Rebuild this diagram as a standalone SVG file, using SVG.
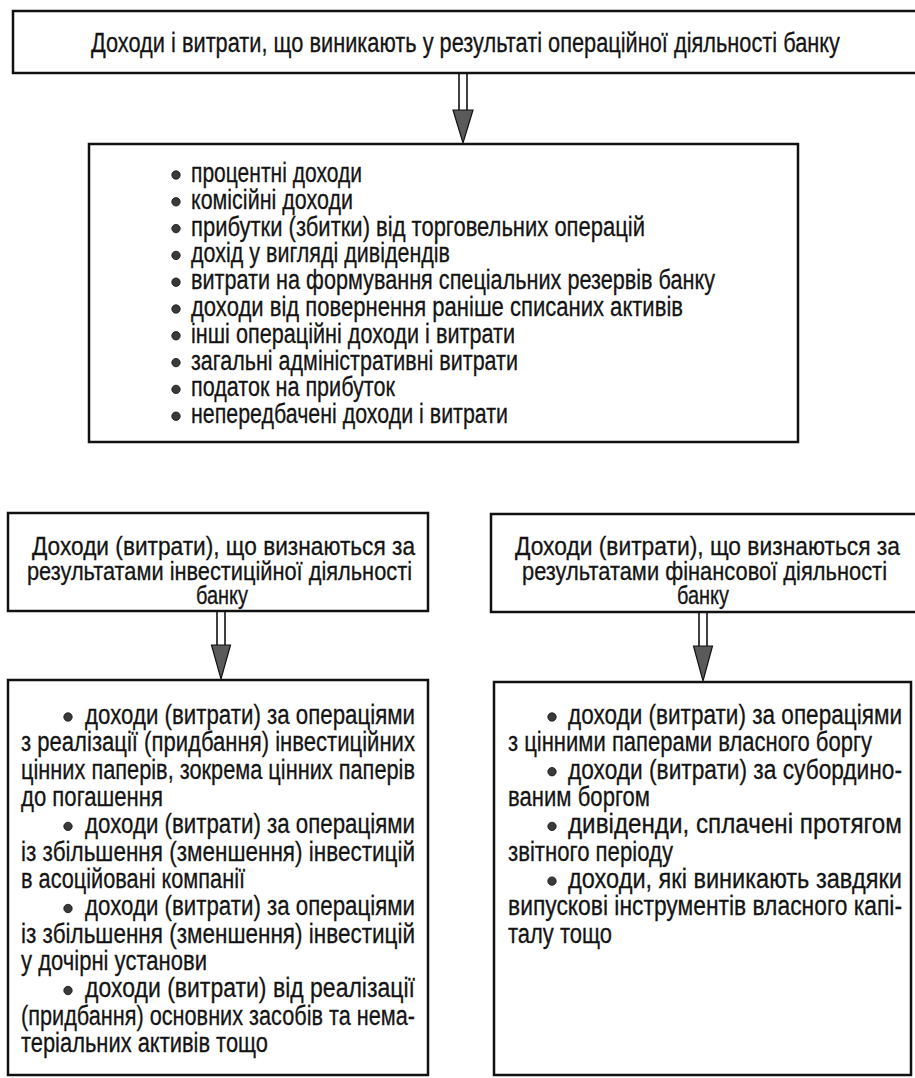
<svg xmlns="http://www.w3.org/2000/svg" width="915" height="1078" viewBox="0 0 915 1078">
<style>
.box{fill:#fff;stroke:#111;stroke-width:2.5}
.t{font-family:"Liberation Sans",Arial,sans-serif;font-size:28px;fill:#141414;stroke:#141414;stroke-width:0.3}
.h{font-size:26px}
.shaft{stroke:#111;stroke-width:1.6;fill:none}
.head{fill:#5a5a5a;stroke:#111;stroke-width:1.2;stroke-linejoin:miter}
.dot{fill:#3a3a3a;stroke:#111;stroke-width:0.8}
</style>
<rect width="915" height="1078" fill="#fff"/>
<g id="connectors">
  <g id="arrow-top">
    <line class="shaft" x1="459" y1="73" x2="459" y2="110"/>
    <line class="shaft" x1="467" y1="73" x2="467" y2="110"/>
    <polygon class="head" points="453,110 473,110 463,143"/>
  </g>
  <g id="arrow-inv">
    <line class="shaft" x1="217" y1="611" x2="217" y2="645"/>
    <line class="shaft" x1="225" y1="611" x2="225" y2="645"/>
    <polygon class="head" points="211.5,645 230.5,645 221,679"/>
  </g>
  <g id="arrow-fin">
    <line class="shaft" x1="699" y1="612" x2="699" y2="646"/>
    <line class="shaft" x1="707" y1="612" x2="707" y2="646"/>
    <polygon class="head" points="693.5,646 712.5,646 703,681"/>
  </g>
</g>
<g id="node-top">
  <rect class="box" x="13" y="11" width="910" height="62"/>
  <g transform="scale(0.8,1)">
    <text class="t" x="113.75" y="52" textLength="936.25" lengthAdjust="spacingAndGlyphs">Доходи і витрати, що виникають у результаті операційної діяльності банку</text>
  </g>
</g>
<g id="node-ops">
  <rect class="box" x="89" y="144" width="709" height="298"/>
  <circle class="dot" cx="176" cy="175" r="4.2"/>
  <circle class="dot" cx="176" cy="201.8" r="4.2"/>
  <circle class="dot" cx="176" cy="228.6" r="4.2"/>
  <circle class="dot" cx="176" cy="255.4" r="4.2"/>
  <circle class="dot" cx="176" cy="282.2" r="4.2"/>
  <circle class="dot" cx="176" cy="309" r="4.2"/>
  <circle class="dot" cx="176" cy="335.8" r="4.2"/>
  <circle class="dot" cx="176" cy="362.6" r="4.2"/>
  <circle class="dot" cx="176" cy="389.4" r="4.2"/>
  <circle class="dot" cx="176" cy="416.2" r="4.2"/>
  <g transform="scale(0.8,1)">
    <text class="t" x="238.75" y="182" textLength="213.75" lengthAdjust="spacingAndGlyphs">процентні доходи</text>
    <text class="t" x="238.75" y="208.8" textLength="202.5" lengthAdjust="spacingAndGlyphs">комісійні доходи</text>
    <text class="t" x="238.75" y="235.6" textLength="567.5" lengthAdjust="spacingAndGlyphs">прибутки (збитки) від торговельних операцій</text>
    <text class="t" x="238.75" y="262.4" textLength="323.75" lengthAdjust="spacingAndGlyphs">дохід у вигляді дивідендів</text>
    <text class="t" x="238.75" y="289.2" textLength="655" lengthAdjust="spacingAndGlyphs">витрати на формування спеціальних резервів банку</text>
    <text class="t" x="238.75" y="316" textLength="615" lengthAdjust="spacingAndGlyphs">доходи від повернення раніше списаних активів</text>
    <text class="t" x="238.75" y="342.8" textLength="405" lengthAdjust="spacingAndGlyphs">інші операційні доходи і витрати</text>
    <text class="t" x="238.75" y="369.6" textLength="408.75" lengthAdjust="spacingAndGlyphs">загальні адміністративні витрати</text>
    <text class="t" x="238.75" y="396.4" textLength="255" lengthAdjust="spacingAndGlyphs">податок на прибуток</text>
    <text class="t" x="238.75" y="423.2" textLength="396.25" lengthAdjust="spacingAndGlyphs">непередбачені доходи і витрати</text>
  </g>
</g>
<g id="node-inv-head">
  <rect class="box" x="8" y="513" width="420" height="98"/>
  <g transform="scale(0.8,1)">
    <text class="t h" x="40" y="555" textLength="478.75" lengthAdjust="spacingAndGlyphs">Доходи (витрати), що визнаються за</text>
    <text class="t h" x="33.75" y="580" textLength="481.25" lengthAdjust="spacingAndGlyphs">результатами інвестиційної діяльності</text>
    <text class="t h" x="245" y="604" textLength="65" lengthAdjust="spacingAndGlyphs">банку</text>
  </g>
</g>
<g id="node-fin-head">
  <rect class="box" x="491" y="514" width="430" height="98"/>
  <g transform="scale(0.8,1)">
    <text class="t h" x="643.75" y="555" textLength="481.25" lengthAdjust="spacingAndGlyphs">Доходи (витрати), що визнаються за</text>
    <text class="t h" x="652.5" y="580" textLength="456.25" lengthAdjust="spacingAndGlyphs">результатами фінансової діяльності</text>
    <text class="t h" x="846.25" y="604" textLength="65" lengthAdjust="spacingAndGlyphs">банку</text>
  </g>
</g>
<g id="node-inv-list">
  <rect class="box" x="8" y="680" width="420" height="395"/>
  <circle class="dot" cx="68" cy="717" r="4.2"/>
  <circle class="dot" cx="68" cy="826.4" r="4.2"/>
  <circle class="dot" cx="68" cy="908.5" r="4.2"/>
  <circle class="dot" cx="68" cy="990.5" r="4.2"/>
  <g transform="scale(0.8,1)">
    <text class="t" x="106.25" y="724" textLength="412.5" lengthAdjust="spacingAndGlyphs">доходи (витрати) за операціями</text>
    <text class="t" x="26.25" y="751.4" textLength="492.5" lengthAdjust="spacingAndGlyphs">з реалізації (придбання) інвестиційних</text>
    <text class="t" x="26.25" y="778.7" textLength="492.5" lengthAdjust="spacingAndGlyphs">цінних паперів, зокрема цінних паперів</text>
    <text class="t" x="26.25" y="806" textLength="177.5" lengthAdjust="spacingAndGlyphs">до погашення</text>
    <text class="t" x="106.25" y="833.4" textLength="412.5" lengthAdjust="spacingAndGlyphs">доходи (витрати) за операціями</text>
    <text class="t" x="26.25" y="860.8" textLength="492.5" lengthAdjust="spacingAndGlyphs">із збільшення (зменшення) інвестицій</text>
    <text class="t" x="26.25" y="888.1" textLength="280" lengthAdjust="spacingAndGlyphs">в асоційовані компанії</text>
    <text class="t" x="106.25" y="915.5" textLength="412.5" lengthAdjust="spacingAndGlyphs">доходи (витрати) за операціями</text>
    <text class="t" x="26.25" y="942.8" textLength="492.5" lengthAdjust="spacingAndGlyphs">із збільшення (зменшення) інвестицій</text>
    <text class="t" x="26.25" y="970.2" textLength="232.5" lengthAdjust="spacingAndGlyphs">у дочірні установи</text>
    <text class="t" x="106.25" y="997.5" textLength="412.5" lengthAdjust="spacingAndGlyphs">доходи (витрати) від реалізації</text>
    <text class="t" x="26.25" y="1024.9" textLength="492.5" lengthAdjust="spacingAndGlyphs">(придбання) основних засобів та нема-</text>
    <text class="t" x="26.25" y="1052.2" textLength="308.75" lengthAdjust="spacingAndGlyphs">теріальних активів тощо</text>
  </g>
</g>
<g id="node-fin-list">
  <rect class="box" x="494" y="682" width="417" height="393"/>
  <circle class="dot" cx="552" cy="717" r="4.2"/>
  <circle class="dot" cx="552" cy="771.7" r="4.2"/>
  <circle class="dot" cx="552" cy="826.4" r="4.2"/>
  <circle class="dot" cx="552" cy="881.1" r="4.2"/>
  <g transform="scale(0.8,1)">
    <text class="t" x="710" y="724" textLength="417.5" lengthAdjust="spacingAndGlyphs">доходи (витрати) за операціями</text>
    <text class="t" x="635" y="751.4" textLength="455" lengthAdjust="spacingAndGlyphs">з цінними паперами власного боргу</text>
    <text class="t" x="710" y="778.7" textLength="417.5" lengthAdjust="spacingAndGlyphs">доходи (витрати) за субордино-</text>
    <text class="t" x="635" y="806" textLength="177.5" lengthAdjust="spacingAndGlyphs">ваним боргом</text>
    <text class="t" x="710" y="833.4" textLength="417.5" lengthAdjust="spacingAndGlyphs">дивіденди, сплачені протягом</text>
    <text class="t" x="635" y="860.8" textLength="206.25" lengthAdjust="spacingAndGlyphs">звітного періоду</text>
    <text class="t" x="710" y="888.1" textLength="417.5" lengthAdjust="spacingAndGlyphs">доходи, які виникають завдяки</text>
    <text class="t" x="635" y="915.5" textLength="492.5" lengthAdjust="spacingAndGlyphs">випускові інструментів власного капі-</text>
    <text class="t" x="635" y="942.8" textLength="130" lengthAdjust="spacingAndGlyphs">талу тощо</text>
  </g>
</g>
</svg>
